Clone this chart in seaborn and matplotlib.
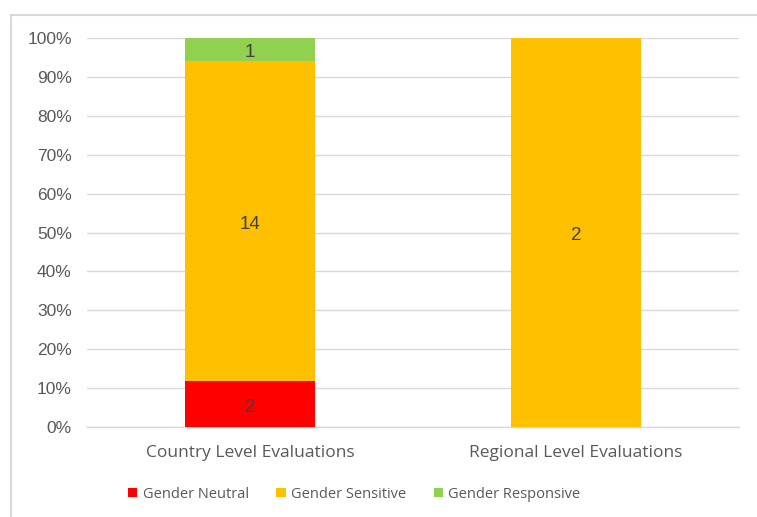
import numpy as np
import pandas as pd
import seaborn as sns
import matplotlib.pyplot as plt
from matplotlib.patches import Rectangle, Patch

# Data (counts of evaluations per gender category)
categories = ['Country Level Evaluations', 'Regional Level Evaluations']
series_names = ['Gender Neutral', 'Gender Sensitive', 'Gender Responsive']
neutral = [2, 0]
sensitive = [14, 2]
responsive = [1, 0]
colors = ['#FF0000', '#FFC000', '#92D050']

counts = np.array([neutral, sensitive, responsive], dtype=float)
totals = counts.sum(axis=0)
shares = counts / totals * 100
cum = np.cumsum(shares, axis=0)

sns.set_style('white')
plt.rcParams['font.family'] = ['Liberation Sans', 'DejaVu Sans']

fig = plt.figure(figsize=(7.57, 5.17), dpi=100)
ax = fig.add_axes([0.115, 0.174, 0.861, 0.7524])

# stacked bars: draw cumulative layers from the top down
for i in range(len(series_names) - 1, -1, -1):
    df = pd.DataFrame({'category': categories, 'value': cum[i]})
    sns.barplot(data=df, x='category', y='value', color=colors[i], width=0.4,
                linewidth=0, saturation=1, ax=ax, zorder=3)

# segment labels
for j in range(len(categories)):
    for i in range(len(series_names)):
        if counts[i, j] > 0:
            mid = cum[i, j] - shares[i, j] / 2
            ax.text(j, mid - 0.8, f'{int(counts[i, j])}', ha='center', va='center',
                    fontsize=13.5, color='#404040', zorder=5)

ax.set_ylim(0, 100)
ax.set_xlim(-0.5, 1.5)
ax.set_yticks(np.arange(0, 101, 10))
ax.set_yticklabels([f'{v}%' for v in range(0, 101, 10)], fontsize=12.5, color='#595959')
ax.set_xticks(range(len(categories)))
ax.set_xticklabels(categories, fontsize=12.5, color='#595959', family=['Open Sans', 'DejaVu Sans'])
ax.tick_params(axis='both', length=0)
ax.tick_params(axis='x', pad=13)
ax.tick_params(axis='y', pad=11)
ax.set_xlabel('')
ax.set_ylabel('')
ax.yaxis.grid(True, color='#D9D9D9', linewidth=1, zorder=0)
ax.set_axisbelow(True)
for s in ['top', 'right', 'left']:
    ax.spines[s].set_visible(False)
ax.spines['bottom'].set_color('#D9D9D9')
ax.spines['bottom'].set_linewidth(1)

handles = [Patch(facecolor=c, edgecolor='none') for c in colors]
fig.legend(handles, series_names, loc='center', bbox_to_anchor=(0.468, 0.044),
           ncol=3, frameon=False, handlelength=0.65, handleheight=0.65,
           handletextpad=0.35, columnspacing=1.9,
           prop={'family': ['Open Sans', 'DejaVu Sans'], 'size': 10.5},
           labelcolor='#595959')

# outer chart border
fig.patches.append(Rectangle((0.0145, -0.1), 2, 1.071, transform=fig.transFigure,
                             fill=False, edgecolor='#D9D9D9', linewidth=1.5))

fig.savefig('out.png', dpi=100)
